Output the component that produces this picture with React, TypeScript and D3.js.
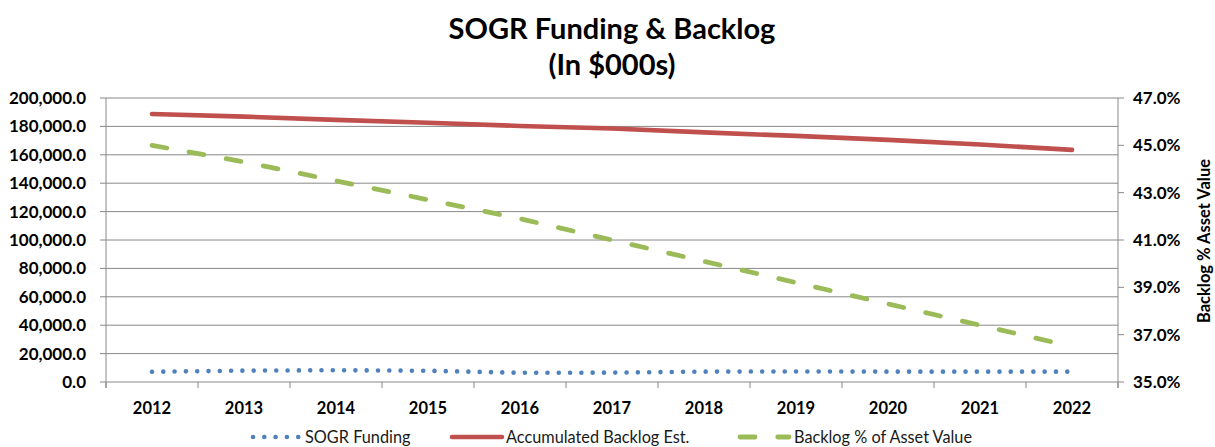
import React from 'react';
import * as d3 from 'd3';

const years = ['2012', '2013', '2014', '2015', '2016', '2017', '2018', '2019', '2020', '2021', '2022'];
const sogrFunding = [7200, 8000, 8300, 7900, 6500, 6600, 7300, 7400, 7300, 7300, 7300];
const backlogEst = [188700, 186900, 184600, 182600, 180300, 178500, 175800, 173300, 170500, 167200, 163500];
const backlogPct = [45.0, 44.3, 43.5, 42.7, 41.9, 41.0, 40.1, 39.2, 38.3, 37.4, 36.5];
const leftTicks = d3.range(0, 200001, 20000);
const rightTicks = d3.range(35, 47.01, 2);

const W = 1215;
const H = 447;
const FONT = "Lato, 'Open Sans', sans-serif";
const GRID = '#888888';
const BLUE = '#4F81BD';
const RED = '#C0504D';
const GREEN = '#9BBB59';

const fmtLeft = d3.format(',.1f');
const fmtRight = (v: number) => v.toFixed(1) + '%';

export default function App() {
	const x = d3.scaleBand().domain(years).range([106, 1118]);
	const cx = (d: string) => (x(d) || 0) + x.bandwidth() / 2;
	const yL = d3.scaleLinear().domain([0, 200000]).range([382, 98]);
	const yR = d3.scaleLinear().domain([35, 47]).range([382, 98]);

	const lineL = d3
		.line<number>()
		.x((_, i) => cx(years[i]))
		.y((d) => yL(d));
	const lineR = d3
		.line<number>()
		.x((_, i) => cx(years[i]))
		.y((d) => yR(d));

	const dotted = { stroke: BLUE, strokeWidth: 4.6, strokeDasharray: '0 11.3', strokeLinecap: 'round' as const };
	const solid = { stroke: RED, strokeWidth: 4.6, strokeLinecap: 'round' as const };
	const dashed = { stroke: GREEN, strokeWidth: 4.8, strokeDasharray: '15 22.7', strokeLinecap: 'round' as const };

	const boundaries = years.map((d) => x(d) || 0).concat([1118]);

	return (
		<svg
			width={W}
			height={H}
			style={{ position: 'absolute', left: 0, top: 0, background: '#fff' }}
			fontFamily={FONT}
		>
			{/* title */}
			<text x={612} y={39} textAnchor="middle" fontSize={29} fontWeight="bold" fill="#000">
				SOGR Funding &amp; Backlog
			</text>
			<text x={612} y={75} textAnchor="middle" fontSize={29} fontWeight="bold" fill="#000">
				(In $000s)
			</text>

			{/* gridlines */}
			{leftTicks.map((t) => (
				<line key={'g' + t} x1={106} x2={1118} y1={yL(t)} y2={yL(t)} stroke={GRID} strokeWidth={1} />
			))}

			{/* left axis */}
			<line x1={106} x2={106} y1={98} y2={388} stroke={GRID} />
			{leftTicks.map((t) => (
				<g key={'l' + t}>
					<line x1={100} x2={106} y1={yL(t)} y2={yL(t)} stroke={GRID} />
					<text x={86} y={yL(t)} dy="0.35em" textAnchor="end" fontSize={17} fontWeight="bold" fill="#000">
						{fmtLeft(t)}
					</text>
				</g>
			))}

			{/* right axis */}
			<line x1={1118} x2={1118} y1={98} y2={388} stroke={GRID} />
			{rightTicks.map((t) => (
				<g key={'r' + t}>
					<line x1={1118} x2={1124} y1={yR(t)} y2={yR(t)} stroke={GRID} />
					<text x={1133} y={yR(t)} dy="0.35em" textAnchor="start" fontSize={17} fontWeight="bold" fill="#000">
						{fmtRight(t)}
					</text>
				</g>
			))}
			<text
				transform="translate(1210,241) rotate(-90)"
				textAnchor="middle"
				fontSize={16.5}
				fontWeight="bold"
				fill="#000"
			>
				Backlog  % Asset Value
			</text>

			{/* x axis */}
			{boundaries.map((b, i) => (
				<line key={'x' + i} x1={b} x2={b} y1={382} y2={388} stroke={GRID} />
			))}
			{years.map((d) => (
				<text key={d} x={cx(d)} y={414} textAnchor="middle" fontSize={16.5} fontWeight="bold" fill="#000">
					{d}
				</text>
			))}

			{/* series */}
			<path d={lineL(sogrFunding) || ''} fill="none" {...dotted} />
			<path d={lineL(backlogEst) || ''} fill="none" {...solid} />
			<path d={lineR(backlogPct) || ''} fill="none" {...dashed} />

			{/* legend */}
			<g fontSize={16.3} fill="#1a1a1a">
				<line x1={253} x2={300} y1={437} y2={437} {...dotted} />
				<text x={305} y={437} dy="0.35em">SOGR Funding</text>
				<line x1={452} x2={502} y1={437} y2={437} {...solid} />
				<text x={506} y={437} dy="0.35em">Accumulated Backlog Est.</text>
				<line x1={740} x2={789} y1={437} y2={437} {...dashed} />
				<text x={794} y={437} dy="0.35em">Backlog % of Asset Value</text>
			</g>
		</svg>
	);
}
